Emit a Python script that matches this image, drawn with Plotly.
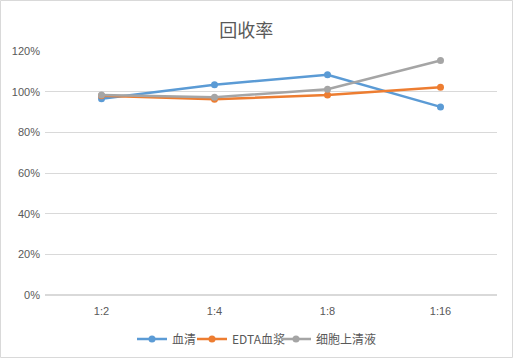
import plotly.graph_objects as go

categories = ["1:2", "1:4", "1:8", "1:16"]
serum = [0.965, 1.034, 1.083, 0.925]
edta_plasma = [0.980, 0.963, 0.983, 1.022]
cell_supernatant = [0.983, 0.973, 1.012, 1.153]
series_names = ["血清", "EDTA血浆", "细胞上清液"]
colors = ["#5B9BD5", "#ED7D31", "#A5A5A5"]
y_ticks = [0, 0.2, 0.4, 0.6, 0.8, 1.0, 1.2]
y_labels = ["0%", "20%", "40%", "60%", "80%", "100%", "120%"]

W, H = 513, 358
l, r, t, b = 45, 16, 51, 63
pw, ph = W - l - r, H - t - b

legend_ids = ["legend", "legend2", "legend3"]
legend_left_px = [132, 192, 276]

fig = go.Figure()
for name, vals, c, lg in zip(series_names, [serum, edta_plasma, cell_supernatant], colors, legend_ids):
    fig.add_trace(go.Scatter(x=categories, y=vals, name=name, mode="lines+markers",
                             line=dict(color=c, width=2.5),
                             marker=dict(color=c, size=7), legend=lg))

legend_common = dict(orientation="h", xanchor="left", xref="container",
                     y=1 - 339 / H, yanchor="middle", yref="container",
                     font=dict(size=12, color="#595959", family="Noto Sans CJK SC"),
                     itemwidth=30, bgcolor="rgba(0,0,0,0)")

fig.update_layout(
    width=W, height=H,
    margin=dict(l=l, r=r, t=t, b=b, autoexpand=False),
    paper_bgcolor="white", plot_bgcolor="white",
    font=dict(family="Liberation Sans, Noto Sans CJK SC, sans-serif", color="#595959", size=11),
    title=dict(text="回收率", x=0.48, xanchor="center", xref="container",
               y=1 - 31 / H, yanchor="middle", yref="container",
               font=dict(size=18, color="#595959", family="Noto Sans CJK SC")),
    showlegend=True,
    legend=dict(x=legend_left_px[0] / W, **legend_common),
    legend2=dict(x=legend_left_px[1] / W, **legend_common),
    legend3=dict(x=legend_left_px[2] / W, **legend_common),
    xaxis=dict(type="category", range=[-0.5, 3.5], showgrid=False, showline=False, ticks="",
               tickfont=dict(size=11, color="#595959"), ticklabelstandoff=8),
    yaxis=dict(range=[0, 1.2], tickvals=y_ticks, ticktext=y_labels, showgrid=True,
               gridcolor="#D9D9D9", gridwidth=1, zeroline=True, zerolinecolor="#D9D9D9",
               showline=False, ticks="", tickfont=dict(size=11, color="#595959"),
               ticklabelstandoff=4),
    shapes=[dict(type="rect", xref="paper", yref="paper",
                 x0=(0.5 - l) / pw, x1=(W - 0.5 - l) / pw,
                 y0=-(H - 0.5 - t - ph) / ph, y1=1 + (t - 0.5) / ph,
                 line=dict(color="#D9D9D9", width=1), layer="below")],
)
fig.write_html("out.html", config={"displayModeBar": False},
               post_script="document.body.style.margin='0px';document.body.style.padding='0px';")
